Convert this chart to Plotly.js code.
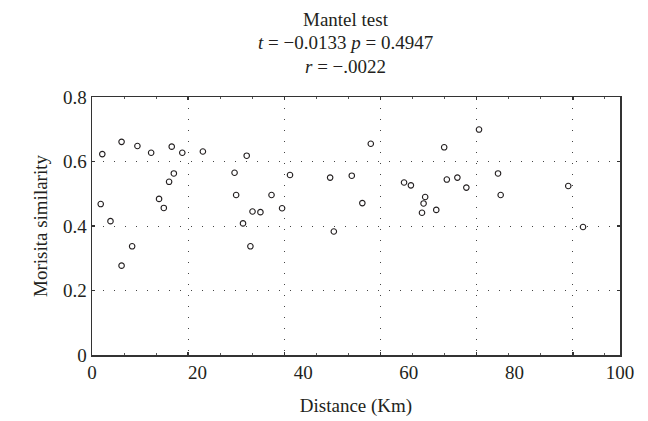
<!DOCTYPE html>
<html>
<head>
<meta charset="utf-8">
<script src="https://cdn.plot.ly/plotly-3.0.1.min.js"></script>
<style>
  html, body { margin: 0; padding: 0; background: #fff; }
  #chart { width: 648px; height: 421px; }
</style>
</head>
<body>
<div id="chart"></div>
<script>
// Pairwise distance between sites (km) and Morisita similarity
const distanceKm = [
  1.95, 5.6, 8.6, 11.2, 15.1, 17.1, 21.0, 29.3,
  1.65, 3.5, 7.6, 5.6, 12.7, 13.6, 14.6, 15.5,
  27.0, 27.3, 28.6, 30.0, 30.4, 31.9,
  34.0, 36.0, 37.5, 45.1, 45.8, 49.2, 51.2, 52.8,
  59.1, 60.4, 63.1, 62.8, 62.5,
  65.2, 66.7, 67.2, 69.2, 70.9, 73.3, 76.9, 77.4, 90.2, 93.0
];
const morisita = [
  0.623, 0.661, 0.648, 0.627, 0.646, 0.627, 0.631, 0.618,
  0.468, 0.415, 0.337, 0.277, 0.484, 0.456, 0.537, 0.563,
  0.565, 0.496, 0.408, 0.337, 0.445, 0.443,
  0.496, 0.455, 0.558, 0.550, 0.383, 0.556, 0.471, 0.655,
  0.535, 0.526, 0.490, 0.470, 0.441,
  0.450, 0.644, 0.544, 0.550, 0.519, 0.699, 0.563, 0.496, 0.524, 0.397
];

const xTicks = [0, 20, 40, 60, 80, 100];
const yTicks = [0, 0.2, 0.4, 0.6, 0.8];
const yTickText = ['0', '0.2', '0.4', '0.6', '0.8'];

// Mantel test summary, one line per entry
const titleLines = [
  'Mantel test',
  '<i>t</i> = −0.0133 <i>p</i> = 0.4947',
  '<i>r</i> = −.0022'
];

const ink = '#231f20';
const serif = 'Liberation Serif, Times New Roman, serif';
const dots = '1px,10px';
const textSize = 19;

const traces = [
  {
    type: 'scatter',
    mode: 'markers',
    x: distanceKm,
    y: morisita,
    marker: { symbol: 'circle-open', size: 5.5, color: ink, line: { width: 1.1, color: ink } },
    hoverinfo: 'x+y'
  },
  // carrier for the dotted grid / tick axis
  { type: 'scatter', x: [], y: [], xaxis: 'x2', yaxis: 'y', hoverinfo: 'skip', showlegend: false }
];

const titleY = [1.302, 1.213, 1.120];
const annotations = titleLines.map((t, i) => ({
  text: t,
  xref: 'paper', yref: 'paper',
  x: 0.481, y: titleY[i],
  xanchor: 'center', yanchor: 'middle',
  showarrow: false,
  font: { family: serif, size: textSize, color: ink }
}));

const layout = {
  width: 648,
  height: 421,
  margin: { l: 92, r: 28, t: 97, b: 66 },
  paper_bgcolor: '#fff',
  plot_bgcolor: '#fff',
  showlegend: false,
  font: { family: serif, size: textSize, color: ink },
  annotations: annotations,
  xaxis: {
    range: [0, 100],
    tickmode: 'array',
    tickvals: xTicks,
    ticks: '',
    showgrid: false,
    zeroline: false,
    showline: true,
    mirror: true,
    linecolor: '#333',
    linewidth: 1.5,
    tickfont: { family: serif, size: textSize, color: ink },
    title: { text: 'Distance (Km)', font: { family: serif, size: textSize, color: ink }, standoff: 16 }
  },
  xaxis2: {
    overlaying: 'x',
    anchor: 'y',
    range: [0, 109.8],
    dtick: 20,
    tick0: 0,
    showticklabels: false,
    ticks: 'inside',
    ticklen: 3,
    tickwidth: 1.5,
    tickcolor: '#333',
    mirror: 'ticks',
    showline: false,
    zeroline: false,
    showgrid: true,
    gridcolor: '#444',
    gridwidth: 1,
    griddash: dots,
    minor: { dtick: 20 / 3, ticks: 'inside', ticklen: 2, tickwidth: 1, tickcolor: '#555', showgrid: false }
  },
  yaxis: {
    range: [0, 0.8],
    tickmode: 'array',
    tickvals: yTicks,
    ticktext: yTickText,
    ticks: 'inside',
    ticklen: 3,
    tickwidth: 1.5,
    tickcolor: '#333',
    showgrid: true,
    gridcolor: '#444',
    gridwidth: 1,
    griddash: dots,
    zeroline: false,
    showline: true,
    mirror: 'ticks',
    linecolor: '#333',
    linewidth: 1.5,
    tickfont: { family: serif, size: textSize, color: ink },
    title: { text: 'Morisita similarity', font: { family: serif, size: textSize, color: ink }, standoff: 10 }
  }
};

Plotly.newPlot('chart', traces, layout, { displayModeBar: false, staticPlot: true });
</script>
</body>
</html>
